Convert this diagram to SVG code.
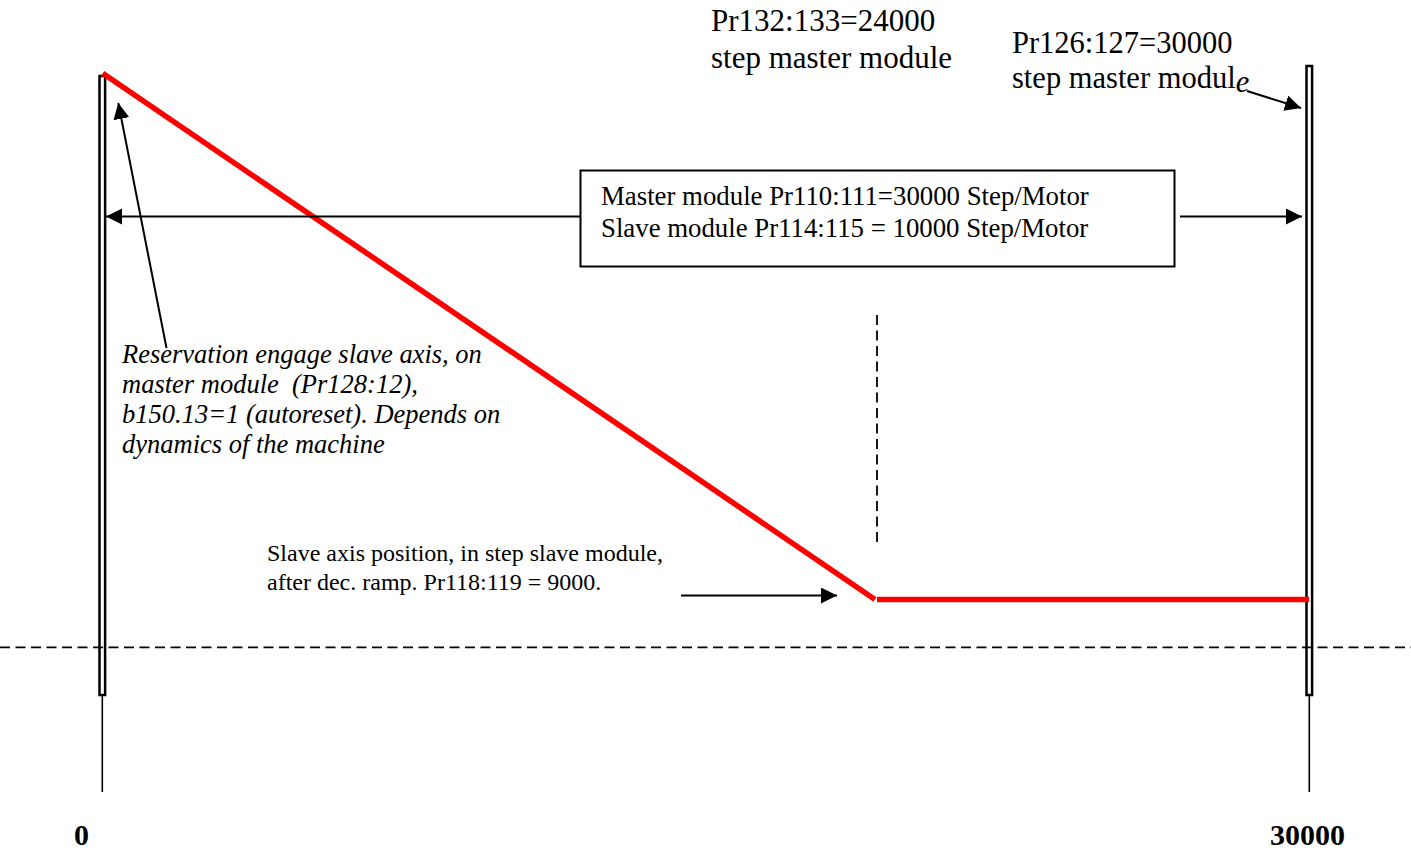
<svg xmlns="http://www.w3.org/2000/svg" width="1411" height="851" viewBox="0 0 1411 851">
<style>
.t{font-family:"Liberation Serif","Times New Roman",serif;fill:#000;white-space:pre}
.ln{stroke:#000;fill:none}
.red{stroke:#ff0000;stroke-width:5.5;fill:none}
.dash{stroke:#000;stroke-width:1.8;stroke-dasharray:10 5.5;fill:none}
.arr{stroke:#000;stroke-width:2;fill:none;marker-end:url(#ah)}
</style>
<defs>
<marker id="ah" markerUnits="userSpaceOnUse" markerWidth="17" markerHeight="17" refX="16" refY="8" orient="auto">
<path d="M0,0 L16,8 L0,16 Z" fill="#000"/>
</marker>
</defs>
<rect width="1411" height="851" fill="#fff"/>
<g id="axis-left">
<rect x="99.5" y="76" width="5.6" height="619" class="ln" stroke-width="2.5"/>
<line x1="102.3" y1="695" x2="102.3" y2="792" class="ln" stroke-width="1.6"/>
</g>
<g id="axis-right">
<rect x="1306.5" y="66" width="5.6" height="629" class="ln" stroke-width="2.5"/>
<line x1="1309.3" y1="695" x2="1309.3" y2="792" class="ln" stroke-width="1.6"/>
</g>
<g id="baseline">
<line x1="0" y1="647.3" x2="1411" y2="647.3" class="dash"/>
<line x1="877" y1="315" x2="877" y2="545" class="dash" stroke-width="1.5"/>
</g>
<g id="profile">
<line x1="102.7" y1="73.3" x2="875" y2="599.5" class="red"/>
<line x1="877" y1="599.5" x2="1309" y2="599.5" class="red"/>
</g>
<g id="connectors">
<line x1="580" y1="216.5" x2="106" y2="216.5" class="arr"/>
<line x1="1180" y1="216.5" x2="1302" y2="216.5" class="arr"/>
<line x1="166.5" y1="348" x2="118.3" y2="103" class="arr"/>
<line x1="1247" y1="91" x2="1301" y2="108" class="arr"/>
<line x1="681" y1="595.5" x2="837" y2="595.5" class="arr"/>
</g>
<g id="box">
<rect x="580.5" y="170.5" width="594" height="96" class="ln" stroke-width="2"/>
<text class="t" x="601" y="205" font-size="26.8">Master module Pr110:111=30000 Step/Motor</text>
<text class="t" x="601" y="237" font-size="26.8">Slave module Pr114:115 = 10000 Step/Motor</text>
</g>
<g id="label-pr132">
<text class="t" x="711" y="31" font-size="31">Pr132:133=24000</text>
<text class="t" x="711" y="68" font-size="31">step master module</text>
</g>
<g id="label-pr126">
<text class="t" x="1012" y="53" font-size="30.5">Pr126:127=30000</text>
<text class="t" x="1012" y="88" font-size="30.5">step master modul<tspan font-style="italic" dy="4">e</tspan></text>
</g>
<g id="label-reservation" font-style="italic">
<text class="t" x="122" y="363" font-size="26.5">Reservation engage slave axis, on</text>
<text class="t" x="122" y="393" font-size="26.5">master module  (Pr128:12),</text>
<text class="t" x="122" y="423" font-size="26.5">b150.13=1 (autoreset). Depends on</text>
<text class="t" x="122" y="453" font-size="26.5">dynamics of the machine</text>
</g>
<g id="label-slave">
<text class="t" x="267" y="561" font-size="24">Slave axis position, in step slave module,</text>
<text class="t" x="267" y="590" font-size="24">after dec. ramp. Pr118:119 = 9000.</text>
</g>
<g id="label-0">
<text class="t" x="74" y="845" font-size="30" font-weight="bold">0</text>
</g>
<g id="label-30000">
<text class="t" x="1270" y="845" font-size="30" font-weight="bold">30000</text>
</g>
</svg>
